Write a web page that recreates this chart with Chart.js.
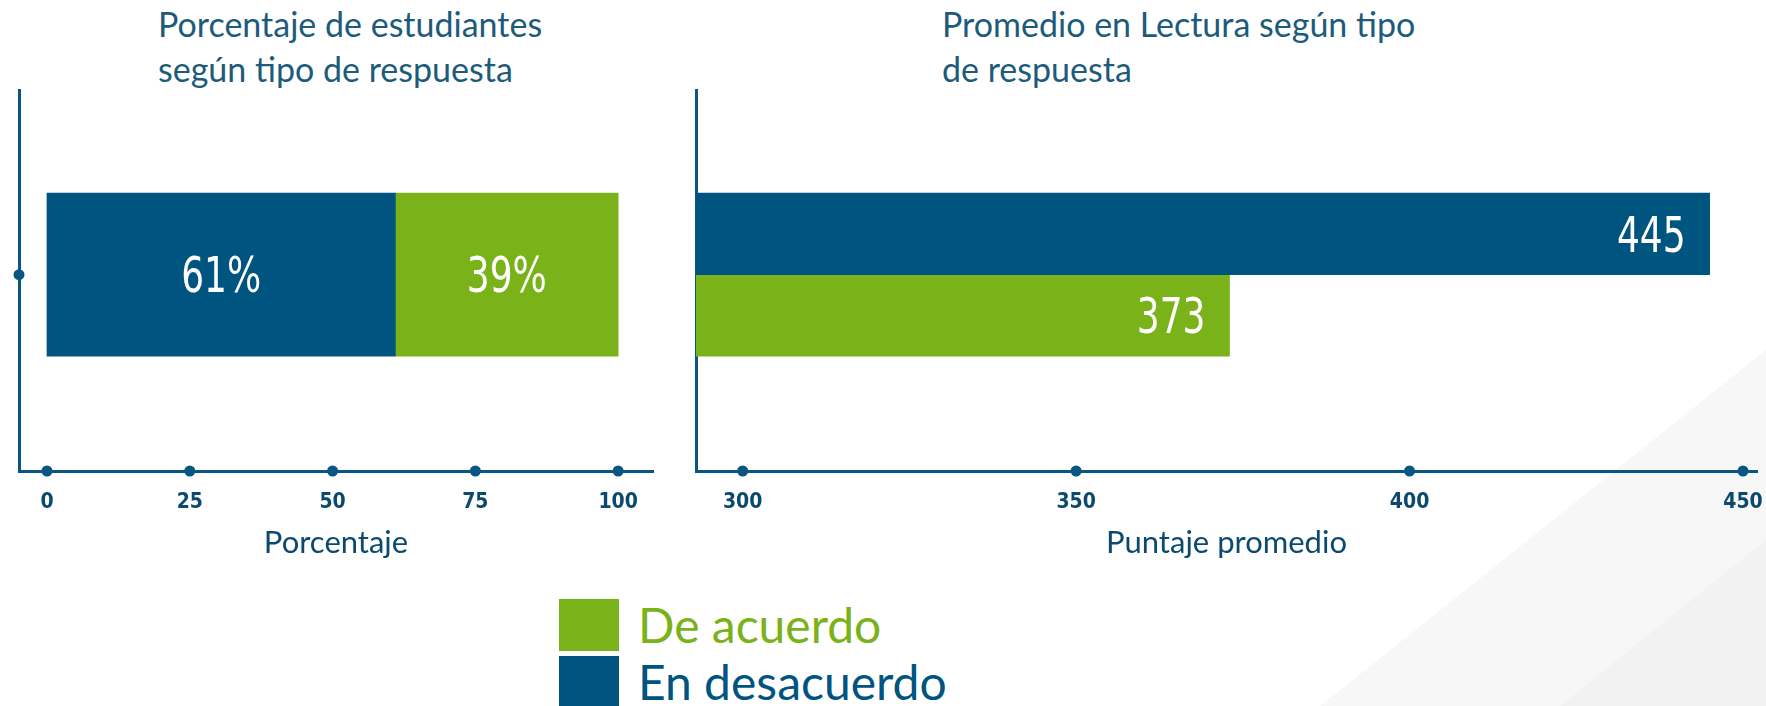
<!DOCTYPE html>
<html lang="es">
<head>
<meta charset="utf-8">
<title>Lectura según tipo de respuesta</title>
<script src="https://cdn.jsdelivr.net/npm/chart.js@4.4.0/dist/chart.umd.min.js"></script>
<style>
  html, body { margin: 0; padding: 0; background: #ffffff; }
  #page { position: relative; width: 1766px; height: 706px; overflow: hidden; background: #ffffff; }
  .shade { position: absolute; left: 0; top: 0; width: 1766px; height: 706px; }
  .shade-a { background: #f7f7f7; clip-path: polygon(1320px 706px, 1766px 350px, 1766px 706px); }
  .shade-b { background: #f2f2f2; clip-path: polygon(1560px 706px, 1766px 540px, 1766px 706px); }
  .chart-box { position: absolute; top: 0; height: 585px; }
  .chart-title { position: absolute; top: 1px; font: 34px/45px Lato, "Open Sans", sans-serif; color: #1d5b7b; white-space: nowrap; }
  .legend { position: absolute; left: 559px; top: 599px; }
  .legend-item { display: flex; align-items: center; height: 52px; margin-bottom: 5px; }
  .legend-box { width: 60px; height: 52px; margin-right: 19px; }
  .legend-text { font: 48px/52px Lato, "Open Sans", sans-serif; white-space: nowrap; }
</style>
</head>
<body>
<div id="page">
  <div class="shade shade-a"></div>
  <div class="shade shade-b"></div>

  <div class="chart-title" style="left:158px;">Porcentaje de estudiantes<br>según tipo de respuesta</div>
  <div class="chart-title" style="left:942px;">Promedio en Lectura según tipo<br>de respuesta</div>

  <div class="chart-box" style="left:0; width:680px;"><canvas id="chart-pct"></canvas></div>
  <div class="chart-box" style="left:680px; width:1086px;"><canvas id="chart-score"></canvas></div>

  <div class="legend">
    <div class="legend-item"><div class="legend-box" style="background:#7ab21a;"></div><span class="legend-text" style="color:#7ab21a;">De acuerdo</span></div>
    <div class="legend-item"><div class="legend-box" style="background:#005480;"></div><span class="legend-text" style="color:#005480;">En desacuerdo</span></div>
  </div>
</div>

<script>
// Data
const seriesNames = ["En desacuerdo", "De acuerdo"];

// each chart has a single row of bars, placed at row 0 of the y axis
const barRow = [0];

const pctDesacuerdo = [61];
const pctAcuerdo = [39];
const pctTicks = [0, 25, 50, 75, 100];

const scoreDesacuerdo = [445];
const scoreAcuerdo = [373];
const scoreTicks = [300, 350, 400, 450];

// Colours
const BLUE = "#005480";
const GREEN = "#7ab21a";
const AXIS = "#0a5683";
const TICK = "#0b4a6e";

const narrowFont = "'Liberation Sans Narrow', 'Arial Narrow', 'DejaVu Sans Condensed', sans-serif";

function toPoints(values) {
  return values.map((v, i) => ({ x: v, y: barRow[i] }));
}

// Round markers on every tick of the value axis (and the row tick, if asked)
const axisDots = {
  id: "axisDots",
  afterDraw(chart, args, opts) {
    const ctx = chart.ctx;
    const xs = chart.scales.x;
    const ys = chart.scales.y;
    ctx.save();
    ctx.fillStyle = AXIS;
    xs.ticks.forEach((t, i) => {
      ctx.beginPath();
      ctx.arc(xs.getPixelForTick(i), xs.top, 5.5, 0, Math.PI * 2);
      ctx.fill();
    });
    if (opts.yDot) {
      ys.ticks.forEach((t, i) => {
        ctx.beginPath();
        ctx.arc(ys.right, ys.getPixelForTick(i), 5.5, 0, Math.PI * 2);
        ctx.fill();
      });
    }
    ctx.restore();
  }
};

// White value labels inside the bars
const barLabels = {
  id: "barLabels",
  afterDatasetsDraw(chart, args, opts) {
    const ctx = chart.ctx;
    chart.data.datasets.forEach((ds, di) => {
      chart.getDatasetMeta(di).data.forEach((bar, i) => {
        const text = ds.data[i].x + (opts.suffix || "");
        ctx.save();
        ctx.font = "50px " + narrowFont;
        ctx.fillStyle = "#ffffff";
        ctx.textBaseline = "middle";
        if (opts.mode === "center") {
          ctx.textAlign = "center";
          ctx.translate((bar.x + bar.base) / 2, bar.y + opts.dy);
        } else {
          ctx.textAlign = "right";
          ctx.translate(bar.x - opts.inset, bar.y + opts.dy);
        }
        ctx.scale(0.8, 1);
        ctx.fillText(text, 0, 0);
        ctx.restore();
      });
    });
  }
};

function valueAxis(min, max, tickValues, titleText, stacked) {
  return {
    type: "linear",
    position: "bottom",
    stacked: stacked,
    min: min,
    max: max,
    afterBuildTicks: (axis) => { axis.ticks = tickValues.map(v => ({ value: v })); },
    afterFit: (axis) => {
      axis.height = 114;
      axis.paddingLeft = 0;
      axis.paddingRight = 0;
    },
    grid: { display: false, drawTicks: false },
    border: { display: true, color: AXIS, width: 3 },
    ticks: {
      padding: 19,
      color: TICK,
      autoSkip: false,
      maxRotation: 0,
      font: { size: 21, weight: "bold", family: narrowFont }
    },
    title: {
      display: true,
      text: titleText,
      color: TICK,
      font: { size: 31, family: "Lato, 'Open Sans', sans-serif" },
      padding: { top: 0, bottom: 23 }
    }
  };
}

function rowAxis(stacked) {
  return {
    type: "linear",
    stacked: stacked,
    min: -1.13,
    max: 1,
    afterBuildTicks: (axis) => { axis.ticks = barRow.map(v => ({ value: v })); },
    ticks: { display: false },
    grid: { display: false, drawTicks: false },
    border: { display: true, color: AXIS, width: 3 },
    afterFit: (axis) => { axis.width = 0; }
  };
}

// 1. Percentage of students (stacked horizontal bar)
new Chart(document.getElementById("chart-pct").getContext("2d"), {
  type: "bar",
  data: {
    datasets: [
      { label: seriesNames[0], data: toPoints(pctDesacuerdo), backgroundColor: BLUE, borderWidth: 0, barThickness: 163 },
      { label: seriesNames[1], data: toPoints(pctAcuerdo), backgroundColor: GREEN, borderWidth: 0, barThickness: 163 }
    ]
  },
  options: {
    indexAxis: "y",
    responsive: true,
    maintainAspectRatio: false,
    animation: false,
    layout: { padding: { top: 90, left: 19, right: 27, bottom: 0 } },
    plugins: {
      legend: { display: false },
      tooltip: { enabled: false },
      axisDots: { yDot: true },
      barLabels: { mode: "center", suffix: "%", dy: 4 }
    },
    scales: {
      x: valueAxis(-4.9, 106.1, pctTicks, "Porcentaje", true),
      y: rowAxis(true)
    }
  },
  plugins: [axisDots, barLabels]
});

// 2. Reading average by response (grouped horizontal bar)
new Chart(document.getElementById("chart-score").getContext("2d"), {
  type: "bar",
  data: {
    datasets: [
      { label: seriesNames[0], data: toPoints(scoreDesacuerdo), backgroundColor: BLUE, borderWidth: 0, barThickness: 81.5 },
      { label: seriesNames[1], data: toPoints(scoreAcuerdo), backgroundColor: GREEN, borderWidth: 0, barThickness: 81.5 }
    ]
  },
  options: {
    indexAxis: "y",
    responsive: true,
    maintainAspectRatio: false,
    animation: false,
    layout: { padding: { top: 90, left: 16, right: 9, bottom: 0 } },
    plugins: {
      legend: { display: false },
      tooltip: { enabled: false },
      axisDots: { yDot: false },
      barLabels: { mode: "end", inset: 24, dy: 5 }
    },
    scales: {
      x: valueAxis(293, 452.1, scoreTicks, "Puntaje promedio", false),
      y: rowAxis(false)
    }
  },
  plugins: [axisDots, barLabels]
});
</script>
</body>
</html>
